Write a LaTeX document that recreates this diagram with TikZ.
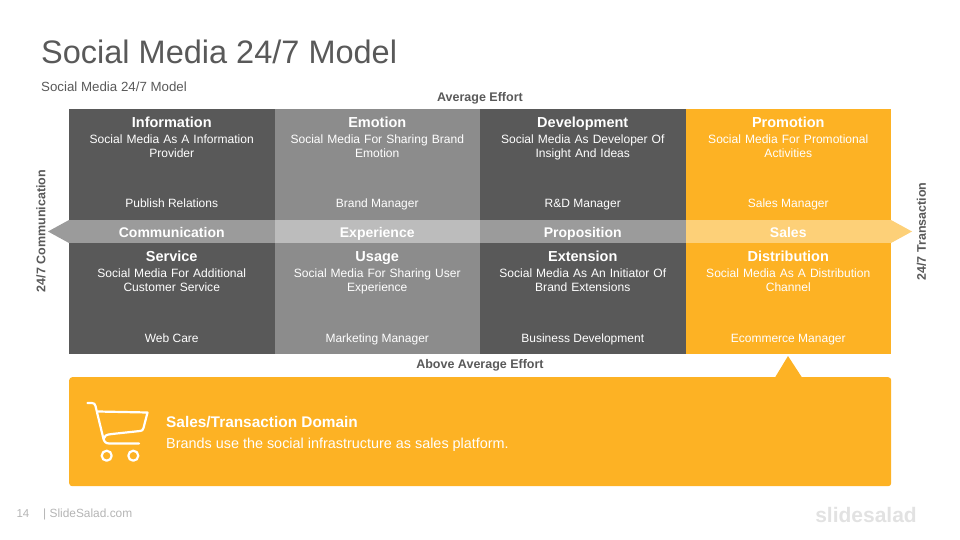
\documentclass[tikz,border=0pt]{standalone}
\usepackage{fontspec}
\setmainfont{Liberation Sans}
\usepackage{xcolor}
\usetikzlibrary{positioning, calc}
\definecolor{darkcell}{HTML}{595959}
\definecolor{midcell}{HTML}{8C8C8C}
\definecolor{salescell}{HTML}{FDB224}
\definecolor{darkband}{HTML}{9B9B9B}
\definecolor{midband}{HTML}{BCBCBC}
\definecolor{salesband}{HTML}{FDD078}
\definecolor{inktext}{HTML}{595959}
\definecolor{softtext}{HTML}{B4B4B4}
\definecolor{marktext}{HTML}{E2E2E2}
\newcommand{\cellhead}[1]{{\fontsize{14.5}{15}\selectfont\bfseries\rule{0pt}{11pt}#1}\\[1.5pt]}

\begin{document}
\begin{tikzpicture}[
    x=1pt, y=-1pt,
    node distance=0pt,
    cell/.style={rectangle, inner sep=0pt, outer sep=0pt, minimum width=205.5pt, minimum height=111pt},
    band/.style={rectangle, inner sep=0pt, outer sep=0pt, minimum width=205.5pt, minimum height=23pt, text height=14pt, text depth=3pt, text=white, font=\fontsize{14}{16}\selectfont\bfseries},
    head/.style={inner sep=0pt, text=white, text width=200pt, align=center, font=\fontsize{12.05}{14}\selectfont},
    role/.style={inner sep=0pt, text=white, text height=9pt, text depth=3pt, font=\fontsize{12}{14}\selectfont},
    effort/.style={inner sep=0pt, text=inktext, font=\fontsize{12.5}{14}\selectfont\bfseries},
    cartline/.style={draw=white, line width=2.2pt, line cap=round, line join=round}
]
    \useasboundingbox (0,0) rectangle (960,540);

    % Title
    \node[anchor=west, inner sep=0pt, text=inktext, font=\fontsize{32.5}{36}\selectfont] (title) at (41,52) {Social Media 24/7 Model};
    \node[anchor=west, inner sep=0pt, text=inktext, font=\fontsize{13.3}{14}\selectfont] (subtitle) at (41,87) {Social Media 24/7 Model};

    % Upper Row
    \node[cell, fill=darkcell, anchor=north west] (information) at (69,109) {};
    \node[cell, fill=midcell, right=of information] (emotion) {};
    \node[cell, fill=darkcell, right=of emotion] (development) {};
    \node[cell, fill=salescell, right=of development] (promotion) {};

    % Middle Band
    \node[band, fill=darkband, below=of information] (communication) {Communication};
    \node[band, fill=midband, below=of emotion] (experience) {Experience};
    \node[band, fill=darkband, below=of development] (proposition) {Proposition};
    \node[band, fill=salesband, below=of promotion] (sales) {Sales};

    % Lower Row
    \node[cell, fill=darkcell, below=of communication] (service) {};
    \node[cell, fill=midcell, below=of experience] (usage) {};
    \node[cell, fill=darkcell, below=of proposition] (extension) {};
    \node[cell, fill=salescell, below=of sales] (distribution) {};

    % Band Tips
    \fill[darkband] (communication.north west) -- ($(communication.west)+(-21,0)$) -- (communication.south west) -- cycle;
    \fill[salesband] (sales.north east) -- ($(sales.east)+(21,0)$) -- (sales.south east) -- cycle;

    % Cell Texts
    \node[head, below=7.5pt of information.north] (informationtext) {\cellhead{Information}Social Media As A Information\\Provider};
    \node[head, below=7.5pt of emotion.north] (emotiontext) {\cellhead{Emotion}Social Media For Sharing Brand\\Emotion};
    \node[head, below=7.5pt of development.north] (developmenttext) {\cellhead{Development}Social Media As Developer Of\\Insight And Ideas};
    \node[head, below=7.5pt of promotion.north] (promotiontext) {\cellhead{Promotion}Social Media For Promotional\\Activities};
    \node[head, below=7.5pt of service.north] (servicetext) {\cellhead{Service}Social Media For Additional\\Customer Service};
    \node[head, below=7.5pt of usage.north] (usagetext) {\cellhead{Usage}Social Media For Sharing User\\Experience};
    \node[head, below=7.5pt of extension.north] (extensiontext) {\cellhead{Extension}Social Media As An Initiator Of\\Brand Extensions};
    \node[head, below=7.5pt of distribution.north] (distributiontext) {\cellhead{Distribution}Social Media As A Distribution\\Channel};

    % Manager Labels
    \node[role, above=9pt of information.south] (publish) {Publish Relations};
    \node[role, above=9pt of emotion.south] (brand) {Brand Manager};
    \node[role, above=9pt of development.south] (rnd) {R\&D Manager};
    \node[role, above=9pt of promotion.south] (salesmgr) {Sales Manager};
    \node[role, above=8pt of service.south] (webcare) {Web Care};
    \node[role, above=8pt of usage.south] (marketing) {Marketing Manager};
    \node[role, above=8pt of extension.south] (business) {Business Development};
    \node[role, above=8pt of distribution.south] (ecommerce) {Ecommerce Manager};

    % Effort And Side Labels
    \node[effort] (average) at (480,98.5) {Average Effort};
    \node[effort] (above) at (480,365.5) {Above Average Effort};
    \node[effort, rotate=90] (commside) at (41,231) {24/7 Communication};
    \node[effort, rotate=90] (transside) at (921.5,231.5) {24/7 Transaction};

    % Domain Box
    \node[rectangle, fill=salescell, rounded corners=3pt, inner sep=0pt, minimum width=822pt, minimum height=109pt, anchor=north west] (domain) at (69,377) {};
    \fill[salescell] (775,377.5) -- (788,356) -- (802,377.5) -- cycle;
    \node[anchor=west, inner sep=0pt, text=white, font=\fontsize{15.4}{18}\selectfont\bfseries] (domainhead) at (166,422) {Sales/Transaction Domain};
    \node[anchor=west, inner sep=0pt, text=white, font=\fontsize{14.4}{16}\selectfont] (domaintext) at (166,444.5) {Brands use the social infrastructure as sales platform.};

    % Cart
    \draw[cartline] (87.5,403) -- (92,403) .. controls (94,403) and (95,404) .. (95.5,406) -- (103,437) .. controls (104,441) and (105,443.5) .. (109,443.5) -- (139,443.5);
    \draw[cartline] (98,411.5) -- (147.5,412.5) -- (143.5,428) .. controls (143,430) and (142,431) .. (140,431) -- (112,434) .. controls (106,434.5) and (104,436) .. (103.5,439);
    \draw[cartline] (106.7,455.7) circle (5);
    \draw[cartline] (133.3,455.7) circle (5);

    % Footer
    \node[inner sep=0pt, text=softtext, font=\fontsize{11.5}{14}\selectfont] (page) at (23,514) {14};
    \node[anchor=west, inner sep=0pt, text=softtext, font=\fontsize{11.9}{14}\selectfont] (site) at (43,514) {| SlideSalad.com};
    \node[anchor=east, inner sep=0pt, text=marktext, font=\fontsize{21}{28}\selectfont\bfseries] (mark) at (917,515) {slidesalad};
\end{tikzpicture}
\end{document}
